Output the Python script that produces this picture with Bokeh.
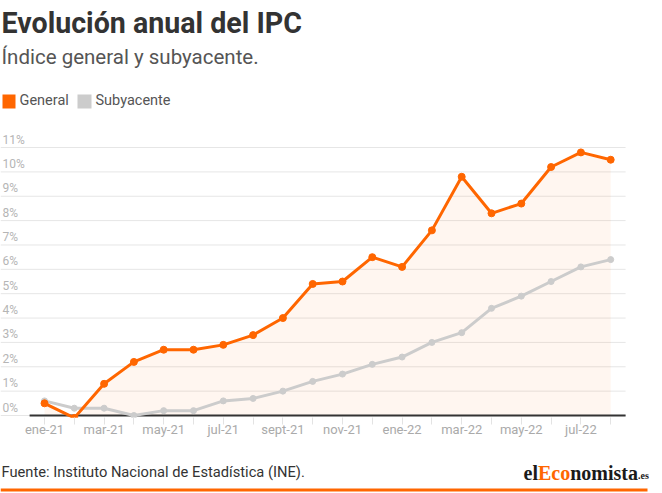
from bokeh.plotting import figure
from bokeh.layouts import column
from bokeh.models import ColumnDataSource, FixedTicker, Label, BoxAnnotation, Range1d, Grid
from bokeh.core.properties import value
from bokeh.embed import file_html
from bokeh.resources import INLINE

# ---- data ----
months = ["ene-21", "feb-21", "mar-21", "abr-21", "may-21", "jun-21", "jul-21", "ago-21",
          "sept-21", "oct-21", "nov-21", "dic-21", "ene-22", "feb-22", "mar-22", "abr-22",
          "may-22", "jun-22", "jul-22", "ago-22"]
general = [0.5, -0.1, 1.3, 2.2, 2.7, 2.7, 2.9, 3.3, 4.0, 5.4, 5.5, 6.5, 6.1, 7.6, 9.8, 8.3,
           8.7, 10.2, 10.8, 10.5]
subyacente = [0.6, 0.3, 0.3, 0.0, 0.2, 0.2, 0.6, 0.7, 1.0, 1.4, 1.7, 2.1, 2.4, 3.0, 3.4, 4.4,
              4.9, 5.5, 6.1, 6.4]
x_tick_positions = [0, 2, 4, 6, 8, 10, 12, 14, 16, 18]
x_tick_labels = ["ene-21", "mar-21", "may-21", "jul-21", "sept-21", "nov-21", "ene-22",
                 "mar-22", "may-22", "jul-22"]
y_ticks = [0, 1, 2, 3, 4, 5, 6, 7, 8, 9, 10, 11]
y_tick_labels = ["0%", "1%", "2%", "3%", "4%", "5%", "6%", "7%", "8%", "9%", "10%", "11%"]

ORANGE = "#ff6600"
GRAY = "#cccccc"
FONT = "Roboto"
W = 662


def drop_grids(f):
    f.center = [r for r in f.center if not isinstance(r, Grid)]


def blank(height):
    f = figure(width=W, height=height, output_backend="svg", toolbar_location=None,
               title=None, x_range=Range1d(0, W), y_range=Range1d(height, 0),
               x_axis_location=None, y_axis_location=None,
               min_border=0, min_border_left=0, min_border_right=0,
               min_border_top=0, min_border_bottom=0, outline_line_color=None,
               background_fill_color="white", border_fill_color="white")
    drop_grids(f)
    return f


def lab(f, text, x, y, size, color, style="normal", font=FONT):
    # y is the vertical centre of the capital letters
    f.add_layout(Label(x=x, y=y, text=text, text_font=font, text_font_size=size,
                       text_color=color, text_font_style=style, text_align="left",
                       text_baseline="middle"))


def box(f, l, r, t, b, color):
    f.add_layout(BoxAnnotation(left=l, right=r, top=t, bottom=b, fill_color=color,
                               fill_alpha=1, line_color=None))


# ---- header ----
HH = 120
head = blank(HH)
lab(head, "Evolución anual del IPC", 1, 22, "28.6px", "#333333", "bold")
lab(head, "Índice general y subyacente.", 1, 56.5, "20.5px", "#555555")
box(head, 2, 15, 94, 108, ORANGE)
lab(head, "General", 19, 99.5, "14.5px", "#555555")
box(head, 77, 91, 94, 108, GRAY)
lab(head, "Subyacente", 95, 99.5, "14.5px", "#555555")

# ---- chart ----
CH = 330
bottom_border = 33
px_month = 29.8
x0_px = 44
px_pct = 24.36

idx = list(range(len(months)))
src = ColumnDataSource(dict(x=idx, general=general, subyacente=subyacente,
                            zero=[0] * len(idx)))

x_range = Range1d(-x0_px / px_month, (W - x0_px) / px_month)
y_range = Range1d(-2 / px_pct, (CH - bottom_border - 2) / px_pct)

p = figure(width=W, height=CH, output_backend="svg", toolbar_location=None,
           title=None, x_range=x_range, y_range=y_range, y_axis_location=None,
           min_border=0, min_border_left=0, min_border_right=0,
           min_border_top=0, min_border_bottom=bottom_border,
           outline_line_color=None, background_fill_color="white",
           border_fill_color="white")
drop_grids(p)

# horizontal grid lines (end at the last category band)
grid_end = len(idx) - 0.5
p.segment(x0=[x_range.start] * len(y_ticks), y0=y_ticks,
          x1=[grid_end] * len(y_ticks), y1=y_ticks,
          line_color="#e6e6e6", line_width=1)

ax = p.xaxis[0]
ax.ticker = FixedTicker(ticks=x_tick_positions,
                        minor_ticks=[i for i in idx if i not in x_tick_positions])
ax.major_label_overrides = {pos: lab_ for pos, lab_ in zip(x_tick_positions, x_tick_labels)}
ax.axis_line_color = None
ax.major_tick_line_color = "#e3e3e3"
ax.minor_tick_line_color = "#e3e3e3"
ax.major_tick_in = 0
ax.major_tick_out = 7
ax.minor_tick_in = 0
ax.minor_tick_out = 7
ax.major_label_standoff = -3
ax.major_label_text_font = FONT
ax.major_label_text_font_size = "13px"
ax.major_label_text_color = "#aaaaaa"

p.text(x=[x_range.start] * len(y_ticks), y=y_ticks, text=y_tick_labels,
       x_offset=2, y_offset=-8, text_align="left", text_baseline="middle",
       text_font=value(FONT), text_font_size="12px", text_color="#b5b5b5")

p.varea(x="x", y1="zero", y2="general", source=src, fill_color=ORANGE, fill_alpha=0.06)

p.segment(x0=[-0.5], y0=[0], x1=[grid_end], y1=[0], line_color="#333333",
          line_width=2)

p.line("x", "subyacente", source=src, line_color=GRAY, line_width=3)
p.scatter("x", "subyacente", source=src, size=6, fill_color=GRAY, line_color=GRAY)
p.line("x", "general", source=src, line_color=ORANGE, line_width=3)
p.scatter("x", "general", source=src, size=7, fill_color=ORANGE, line_color=ORANGE)

# ---- footer ----
FH = 493 - HH - CH
foot = blank(FH)
lab(foot, "Fuente: Instituto Nacional de Estadística (INE).", 1, 21.7, "14.7px", "#333333")

LOGO_FONT = "Liberation Serif"
fs = 20
lx = 523
ly = 22.5
lab(foot, "el", lx, ly, f"{fs}px", "#1a1a1a", "bold", LOGO_FONT)
lx += 0.722 * fs
lab(foot, "Eco", lx, ly, f"{fs}px", ORANGE, "bold", LOGO_FONT)
lx += 1.611 * fs
lab(foot, "nomista", lx, ly, f"{fs}px", "#1a1a1a", "bold", LOGO_FONT)
lx += 3.389 * fs
lab(foot, ".es", lx, ly + 2, "10px", "#1a1a1a", "bold", LOGO_FONT)
box(foot, 0, 647, 38, 41, ORANGE)

layout = column(head, p, foot, spacing=0)
open("out.html", "w").write(file_html(layout, INLINE))
